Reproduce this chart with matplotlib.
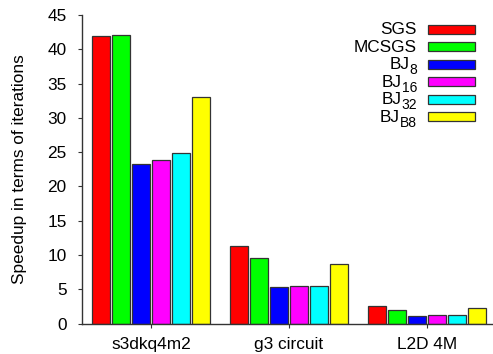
import numpy as np
import matplotlib
matplotlib.use('Agg')
import matplotlib.pyplot as plt
from matplotlib.patches import Rectangle

plt.rcParams['font.family'] = ['Liberation Sans', 'DejaVu Sans']

# DATA

matrices = ['s3dkq4m2', 'g3 circuit', 'L2D 4M']
series = [('SGS', ''), ('MCSGS', ''), ('BJ', '8'), ('BJ', '16'), ('BJ', '32'), ('BJ', 'B8')]
colors = ['#ff0000', '#00ff00', '#0000ff', '#ff00ff', '#00ffff', '#ffff00']

sgs = [41.9, 11.35, 2.55]
mcsgs = [42.1, 9.5, 1.9]
bj8 = [23.2, 5.35, 1.15]
bj16 = [23.9, 5.4, 1.2]
bj32 = [24.85, 5.45, 1.25]
bjb8 = [33.0, 8.65, 2.2]

values = [sgs, mcsgs, bj8, bj16, bj32, bjb8]

# PLOT

fig = plt.figure(figsize=(4.93, 3.54), dpi=100)
ax = fig.add_axes([82/493, 30.5/354, 1 - 82/493, 308.5/354])

x = np.arange(len(matrices))
pitch = 0.145
width = 0.135
for i, (vals, c) in enumerate(zip(values, colors)):
    offs = (i - 2.5) * pitch
    ax.bar(x + offs, vals, width, color=c, edgecolor='#333333', linewidth=0.9, zorder=2)

ax.set_xlim(-0.5, 2.478)
ax.set_ylim(0, 45)
ax.set_yticks(range(0, 46, 5))
ax.set_xticks(x)
ax.set_xticklabels(matrices, fontsize=12.4)
ax.tick_params(axis='y', labelsize=12.4, length=3, pad=8, color='#333333')
ax.tick_params(axis='x', length=3, pad=7, color='#333333')
ax.spines['top'].set_visible(False)
ax.spines['right'].set_visible(False)
for s in ['left', 'bottom']:
    ax.spines[s].set_color('#333333')
    ax.spines[s].set_linewidth(1.0)
ax.set_ylabel('Speedup in terms of iterations', fontsize=12.4, labelpad=15)

# legend drawn by hand: evenly spaced rows, big subscripts
row_y = 29.2
for (main, sub), c in zip(series, colors):
    fig.patches.append(Rectangle((428/493, 1 - (row_y + 4.5)/354), 47/493, 9/354,
                                 transform=fig.transFigure, facecolor=c,
                                 edgecolor='#333333', linewidth=0.9))
    if sub:
        t = fig.text(417/493, 1 - (row_y + 10)/354, sub, ha='right', va='baseline', fontsize=10)
        # xy (0,0) is the bottom of the subscript box, i.e. below its baseline
        ax.annotate(main, xy=(0, 0), xycoords=t, xytext=(0, 8 * 72 / 100),
                    textcoords='offset points', ha='right', va='baseline', fontsize=12.4,
                    annotation_clip=False)
    else:
        fig.text(417/493, 1 - (row_y + 5)/354, main, ha='right', va='baseline', fontsize=12.4)
    row_y += 17.5

plt.savefig('out.png', dpi=100)
